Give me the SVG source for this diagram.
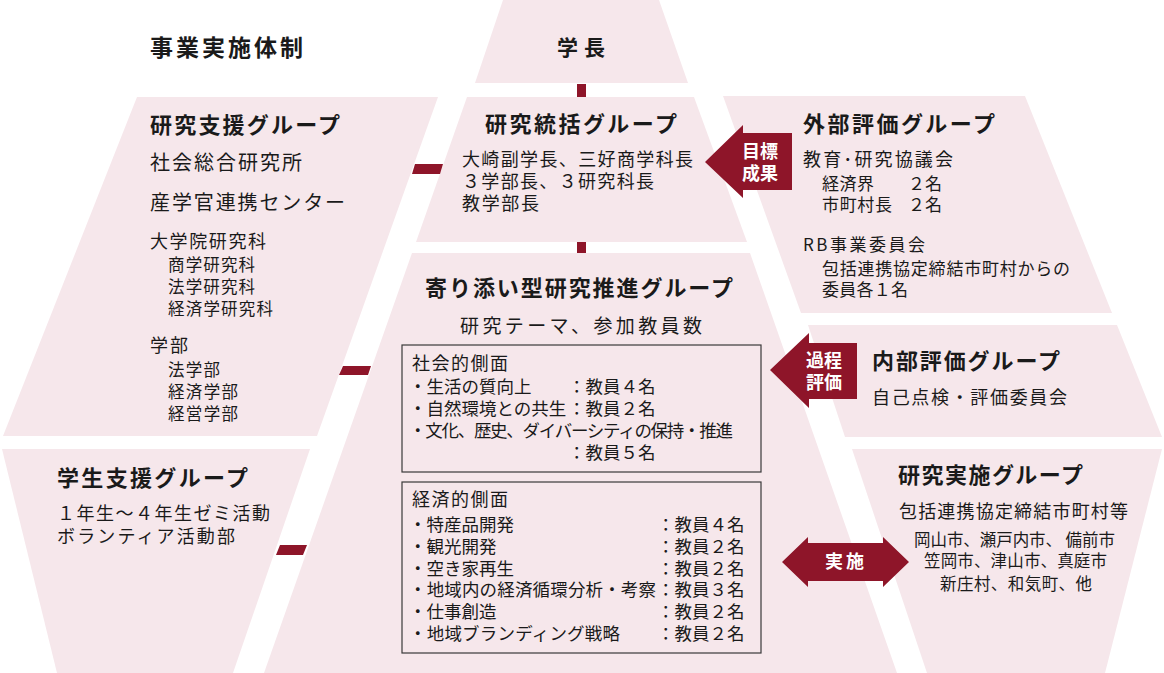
<svg xmlns="http://www.w3.org/2000/svg" width="1164" height="673" viewBox="0 0 1164 673">
<style>
.shape{fill:#f6e7eb}
.bar{fill:#8e1529}
.arrow{fill:#8e1529}
text{font-family:"Noto Sans CJK JP","Noto Sans",sans-serif;fill:#1a1a1a}
.title{font-size:23px;font-weight:700;letter-spacing:3px}
.head{font-size:22px;font-weight:700}
.t20{font-size:20px}
.t18{font-size:18px}
.t17{font-size:17px}
.t16{font-size:16.5px}
.box{font-size:17.5px}
.alabel{font-size:18px;font-weight:700;fill:#ffffff;text-anchor:middle}
.frame{fill:none;stroke:#3a3a3a;stroke-width:1.2}
</style>

<text class="title" x="150" y="56">事業実施体制</text>

<g id="gakucho">
<polygon class="shape" points="503,0 659,0 688,83 475,83"/>
<text class="head" x="557" y="55" style="font-size:21px;letter-spacing:6px">学長</text>
</g>

<g id="kenkyu-tokatsu">
<polygon class="shape" points="467,97 694,97 747,242 416,242"/>
<text class="head" x="485" y="132" textLength="192">研究統括グループ</text>
<text class="t18" x="462" y="166" textLength="231">大崎副学長、三好商学科長</text>
<text class="t18" x="462" y="188" textLength="192">３学部長、３研究科長</text>
<text class="t18" x="462" y="210" textLength="77">教学部長</text>
</g>

<g id="yorisoi">
<polygon class="shape" points="412,253 750,253 897,673 264,673"/>
<text class="head" x="425" y="296" textLength="308">寄り添い型研究推進グループ</text>
<text class="t18" x="460" y="333" style="font-size:19px" textLength="242">研究テーマ、参加教員数</text>
<rect class="frame" x="402" y="345" width="359" height="127"/>
<text class="box" x="412" y="370" style="font-size:18px" textLength="96">社会的側面</text>
<text class="box" x="409" y="393">・生活の質向上</text>
<text class="box" x="568" y="393">：教員４名</text>
<text class="box" x="409" y="415">・自然環境との共生</text>
<text class="box" x="568" y="415">：教員２名</text>
<text class="box" x="409" y="437" textLength="324">・文化、歴史、ダイバーシティの保持・推進</text>
<text class="box" x="568" y="459">：教員５名</text>
<rect class="frame" x="402" y="482" width="359" height="171"/>
<text class="box" x="412" y="506" style="font-size:18px" textLength="96">経済的側面</text>
<text class="box" x="409" y="531">・特産品開発</text>
<text class="box" x="657" y="531">：教員４名</text>
<text class="box" x="409" y="553">・観光開発</text>
<text class="box" x="657" y="553">：教員２名</text>
<text class="box" x="409" y="575">・空き家再生</text>
<text class="box" x="657" y="575">：教員２名</text>
<text class="box" x="409" y="596" textLength="247">・地域内の経済循環分析・考察</text>
<text class="box" x="657" y="596">：教員３名</text>
<text class="box" x="409" y="618">・仕事創造</text>
<text class="box" x="657" y="618">：教員２名</text>
<text class="box" x="409" y="640" textLength="211">・地域ブランディング戦略</text>
<text class="box" x="657" y="640">：教員２名</text>
</g>

<g id="kenkyu-shien">
<polygon class="shape" points="137,97 438,97 317,436 3,436"/>
<text class="head" x="150" y="133" textLength="190">研究支援グループ</text>
<text class="t20" x="150" y="170" textLength="152">社会総合研究所</text>
<text class="t20" x="150" y="210" textLength="195">産学官連携センター</text>
<text class="t18" x="150" y="248" textLength="116">大学院研究科</text>
<text class="t16" x="168" y="271" textLength="87">商学研究科</text>
<text class="t16" x="168" y="293" textLength="87">法学研究科</text>
<text class="t16" x="168" y="315" textLength="105">経済学研究科</text>
<text class="t18" x="150" y="352" textLength="38">学部</text>
<text class="t16" x="168" y="376" textLength="52">法学部</text>
<text class="t16" x="168" y="398" textLength="70">経済学部</text>
<text class="t16" x="168" y="420" textLength="70">経営学部</text>
</g>

<g id="gakusei-shien">
<polygon class="shape" points="2,449 310,449 233,673 57,673"/>
<text class="head" x="57" y="486" textLength="191">学生支援グループ</text>
<text class="t18" x="57" y="520" textLength="213">１年生～４年生ゼミ活動</text>
<text class="t18" x="57" y="543" textLength="178">ボランティア活動部</text>
</g>

<g id="gaibu-hyoka">
<polygon class="shape" points="723,96 1025,96 1112,313 801,313"/>
<text class="head" x="803" y="132" textLength="192">外部評価グループ</text>
<text class="t18" x="803" y="166" textLength="150">教育･研究協議会</text>
<text class="t17" x="822" y="190" textLength="52">経済界</text>
<text class="t17" x="908" y="190">２名</text>
<text class="t17" x="822" y="211" textLength="70">市町村長</text>
<text class="t17" x="908" y="211">２名</text>
<text class="t17" x="803" y="251" textLength="122">RB事業委員会</text>
<text class="t17" x="822" y="275" textLength="248">包括連携協定締結市町村からの</text>
<text class="t17" x="822" y="296" textLength="86">委員各１名</text>
</g>

<g id="naibu-hyoka">
<polygon class="shape" points="808,325 1117,325 1162,437 845,437"/>
<text class="head" x="872" y="369" textLength="188">内部評価グループ</text>
<text class="t18" x="872" y="404" textLength="195">自己点検・評価委員会</text>
</g>

<g id="kenkyu-jisshi">
<polygon class="shape" points="852,449 1162,449 1105,673 927,673"/>
<text class="head" x="898" y="483" textLength="185">研究実施グループ</text>
<text class="t18" x="899" y="518" textLength="229">包括連携協定締結市町村等</text>
<text class="t16" x="914" y="546" textLength="201">岡山市、瀬戸内市、 備前市</text>
<text class="t16" x="924" y="567" textLength="183">笠岡市、津山市、真庭市</text>
<text class="t16" x="940" y="590" textLength="152">新庄村、和気町、他</text>
</g>

<g id="connectors">
<polygon class="bar" points="577,84 586,84 586,97 577,97"/>
<polygon class="bar" points="577,242 586,242 586,253 577,253"/>
<polygon class="bar" points="415,164 443,164 440,174 412,174"/>
<polygon class="bar" points="343,366 371,366 368,375 339,375"/>
<polygon class="bar" points="280,545 307,545 303,555 276,555"/>
<g id="arrow-mokuhyo">
<polygon class="arrow" points="705,162 743,125 743,133 792,133 792,190 743,190 743,198"/>
<text class="alabel" x="760" y="158">目標</text>
<text class="alabel" x="760" y="180">成果</text>
</g>
<g id="arrow-katei">
<polygon class="arrow" points="770,370 809,333 809,343 857,343 857,399 809,399 809,408"/>
<text class="alabel" x="824" y="367">過程</text>
<text class="alabel" x="824" y="389">評価</text>
</g>
<g id="arrow-jisshi">
<polygon class="arrow" points="782,562 808,537 808,543 883,543 883,537 909,562 883,587 883,581 808,581 808,587"/>
<text class="alabel" x="846" y="568" style="letter-spacing:3px">実施</text>
</g>
</g>
</svg>
